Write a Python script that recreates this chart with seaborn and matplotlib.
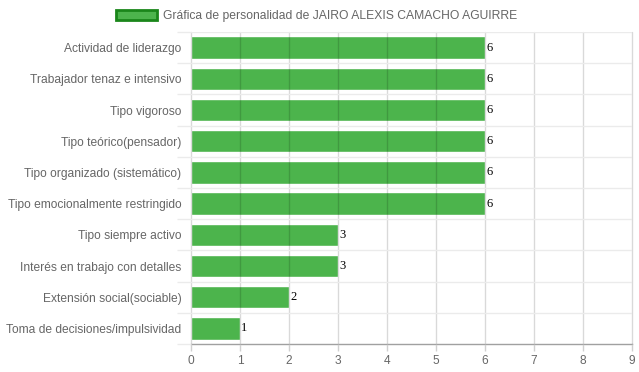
import matplotlib
matplotlib.use("Agg")
import matplotlib.pyplot as plt
import seaborn as sns
import pandas as pd
from matplotlib.patches import Patch

categories = [
    "Actividad de liderazgo",
    "Trabajador tenaz e intensivo",
    "Tipo vigoroso",
    "Tipo teórico(pensador)",
    "Tipo organizado (sistemático)",
    "Tipo emocionalmente restringido",
    "Tipo siempre activo",
    "Interés en trabajo con detalles",
    "Extensión social(sociable)",
    "Toma de decisiones/impulsividad",
]
values = [6, 6, 6, 6, 6, 6, 3, 3, 2, 1]
x_ticks = list(range(0, 10))
legend_label = "Gráfica de personalidad de JAIRO ALEXIS CAMACHO AGUIRRE"

sns.set_theme(style="white")
plt.rcParams["font.family"] = ["Liberation Sans", "DejaVu Sans"]

df = pd.DataFrame({"cat": categories, "val": values})

fig = plt.figure(figsize=(6.39, 3.72), dpi=100)
W, H = 639, 372
ax = fig.add_axes([191 / W, (H - 344) / H, (632 - 191) / W, (344 - 32) / H])

bar_color = "#4CB44C"
sns.barplot(data=df, x="val", y="cat", orient="h", color=bar_color,
            saturation=1, width=0.72, ax=ax, zorder=2)

ax.set_xlim(0, 9)
ax.set_ylim(len(categories) - 0.5, -0.5)
ax.set_xticks(x_ticks)
ax.set_xticklabels([str(t) for t in x_ticks])
ax.set_xlabel("")
ax.set_ylabel("")

# grid
ax.set_yticks([i + 0.5 for i in range(-1, len(categories))], minor=True)
ax.grid(axis="x", which="major", color="black", alpha=0.15, linewidth=1)
ax.grid(axis="y", which="minor", color="#ebebeb", alpha=1, linewidth=1)
ax.set_axisbelow(False)
for b in ax.patches:
    b.set_zorder(2)
for t in ax.xaxis.get_major_ticks():
    t.gridline.set_zorder(3)
    t.gridline.set_clip_on(False)
for t in ax.yaxis.get_minor_ticks():
    t.gridline.set_zorder(1)

ax.tick_params(axis="y", which="major", left=False, length=0, pad=7,
               labelsize=8.65, labelcolor="#666666")
ax.tick_params(axis="y", which="minor", left=True, length=10, color="#ebebeb", width=1)
ax.tick_params(axis="x", which="major", bottom=True, length=5, color="#d0d0d0", width=1,
               labelsize=8.6, labelcolor="#666666", pad=3)

for s in ["top", "right", "left"]:
    ax.spines[s].set_visible(False)
ax.spines["bottom"].set_color("#a0a0a0")
ax.spines["bottom"].set_linewidth(1)

for c in ax.containers:
    ax.bar_label(c, labels=[str(v) for v in values], padding=1, fontsize=9,
                 family=["Liberation Serif", "DejaVu Serif"], color="black")

handle = Patch(facecolor=bar_color, edgecolor="#1A861A", linewidth=2)
fig.legend([handle], [legend_label], loc="center", bbox_to_anchor=(0.495, 0.958),
           frameon=False, fontsize=8.7, handlelength=3.4, handleheight=0.9,
           handletextpad=0.5, labelcolor="#666666")

fig.savefig("out.png", dpi=100)
